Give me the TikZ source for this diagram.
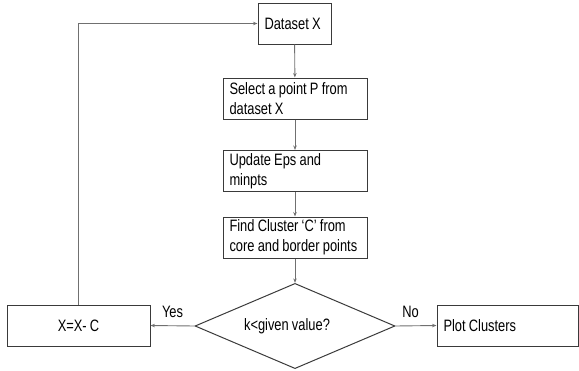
\documentclass[tikz,border=0pt]{standalone}
\usepackage{fontspec}
\setmainfont[FakeStretch=0.78,WordSpace=0.9]{Liberation Sans}
\usetikzlibrary{shapes.geometric,arrows.meta}
\definecolor{boxline}{HTML}{3A3A3A}
\definecolor{connline}{HTML}{707070}
\newcommand{\natsp}{\spaceskip=0pt\xspaceskip=0pt\relax}
\tikzset{
  box/.style={draw=boxline, line width=1pt, rectangle, inner xsep=6.5pt, inner ysep=0pt,
    minimum height=41pt, font=\fontsize{16.5}{20}\selectfont, align=left},
  decision/.style={draw=boxline, line width=1pt, diamond, inner sep=0pt,
    minimum width=200pt, minimum height=82pt, font=\fontsize{16.5}{20}\selectfont},
  conn/.style={draw=connline, line width=0.9pt, -{Stealth[length=4.5pt,width=3.5pt]}},
  lbl/.style={font=\fontsize{16.5}{20}\selectfont, inner sep=0pt}
}
\begin{document}
\begin{tikzpicture}[x=1pt,y=-1pt]
\useasboundingbox (0,0) rectangle (579,370);
\node[box, minimum width=73pt, text width=60pt] (ds) at (294.5,23.5) {\natsp\mbox{Dataset X}};
\node[box, minimum width=144pt, text width=131pt] (sel) at (295,98.5) {\natsp\mbox{Select a point P from}\\\mbox{dataset X}};
\node[box, minimum width=144pt, text width=131pt] (upd) at (295,171) {\natsp\mbox{Update Eps and}\\\mbox{minpts}};
\node[box, minimum width=144pt, text width=131pt] (find) at (295,237.5) {\natsp\mbox{Find Cluster ‘C’ from}\\\mbox{core and border points}};
\node[decision] (dia) at (295,326) {\hspace*{-16pt}k<given value?};
\node[box, minimum width=143pt, align=center] (xc) at (78.5,325.5) {X=X- C};
\node[box, minimum width=141pt, text width=128pt] (plot) at (507.5,325.5) {\natsp\mbox{Plot Clusters}};
\node[lbl] (yes) at (172.5,312) {Yes};
\node[lbl] (no) at (410.5,312) {No};
\draw[conn] (ds) -- (sel);
\draw[conn] (sel) -- (upd);
\draw[conn] (upd) -- (find);
\draw[conn] (find) -- (dia);
\draw[conn] (dia.west) -- (xc.east);
\draw[conn] (dia.east) -- (plot.west);
\draw[conn] (xc.north) |- (ds.west);
\end{tikzpicture}
\end{document}
